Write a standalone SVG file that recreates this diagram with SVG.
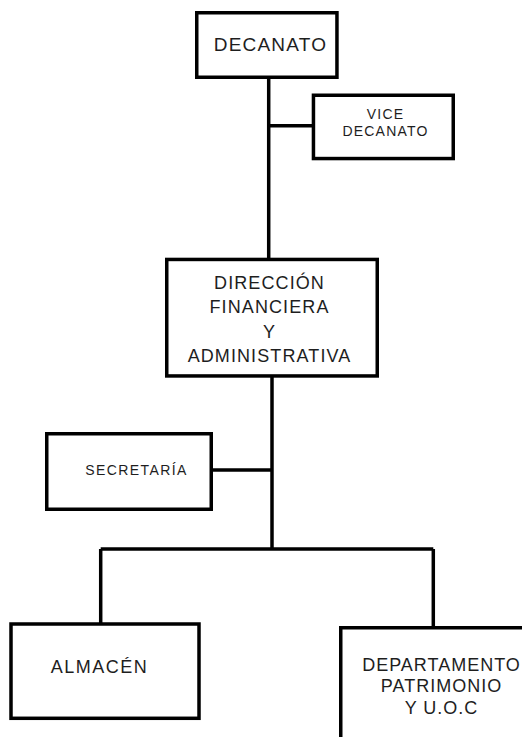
<svg xmlns="http://www.w3.org/2000/svg" width="522" height="737" viewBox="0 0 522 737">
<style>
.box{fill:#fff;stroke:#000;stroke-width:3.5}
.ln{fill:none;stroke:#000;stroke-width:3.5}
text{font-family:"Liberation Sans",Arial,sans-serif;fill:#1e1e1e;text-anchor:middle}
.t18{font-size:18px;letter-spacing:1.1px}
.t19{font-size:19px;letter-spacing:1.2px}
.t14{font-size:14px;letter-spacing:1.2px}
</style>
<rect width="522" height="737" fill="#fff"/>
<g id="connectors">
<path class="ln" d="M268.7 79 V258"/>
<path class="ln" d="M268.7 125.7 H312"/>
<path class="ln" d="M272 377 V549"/>
<path class="ln" d="M213 470 H272"/>
<path class="ln" d="M100.7 549 H433.3"/>
<path class="ln" d="M100.7 549 V623"/>
<path class="ln" d="M433.3 549 V627"/>
</g>
<g id="decanato">
<rect class="box" x="196.75" y="12.75" width="140.2" height="64.5"/>
<text class="t19" x="270.5" y="51">DECANATO</text>
</g>
<g id="vice-decanato">
<rect class="box" x="313.45" y="95.25" width="139.8" height="63.3"/>
<text class="t14" x="385.5" y="119">VICE</text>
<text class="t14" x="385.5" y="136">DECANATO</text>
</g>
<g id="direccion">
<rect class="box" x="166.75" y="259.45" width="210.5" height="116.5"/>
<text class="t18" x="269.5" y="289">DIRECCIÓN</text>
<text class="t18" x="269.5" y="313">FINANCIERA</text>
<text class="t18" x="269.5" y="337.5">Y</text>
<text class="t18" x="269.5" y="361.5">ADMINISTRATIVA</text>
</g>
<g id="secretaria">
<rect class="box" x="46.75" y="433.75" width="164.5" height="75.5"/>
<text class="t14" x="136.5" y="475" style="letter-spacing:1.4px">SECRETARÍA</text>
</g>
<g id="almacen">
<rect class="box" x="11" y="624" width="188" height="94.3"/>
<text class="t18" x="99.5" y="673" style="letter-spacing:1.5px">ALMACÉN</text>
</g>
<g id="departamento">
<rect class="box" x="340.75" y="627.75" width="200" height="150"/>
<text class="t18" x="441.5" y="670.5" style="letter-spacing:1px">DEPARTAMENTO</text>
<text class="t18" x="441.5" y="692" style="letter-spacing:1px">PATRIMONIO</text>
<text class="t18" x="441.5" y="713.5" style="letter-spacing:1px">Y U.O.C</text>
</g>
</svg>
